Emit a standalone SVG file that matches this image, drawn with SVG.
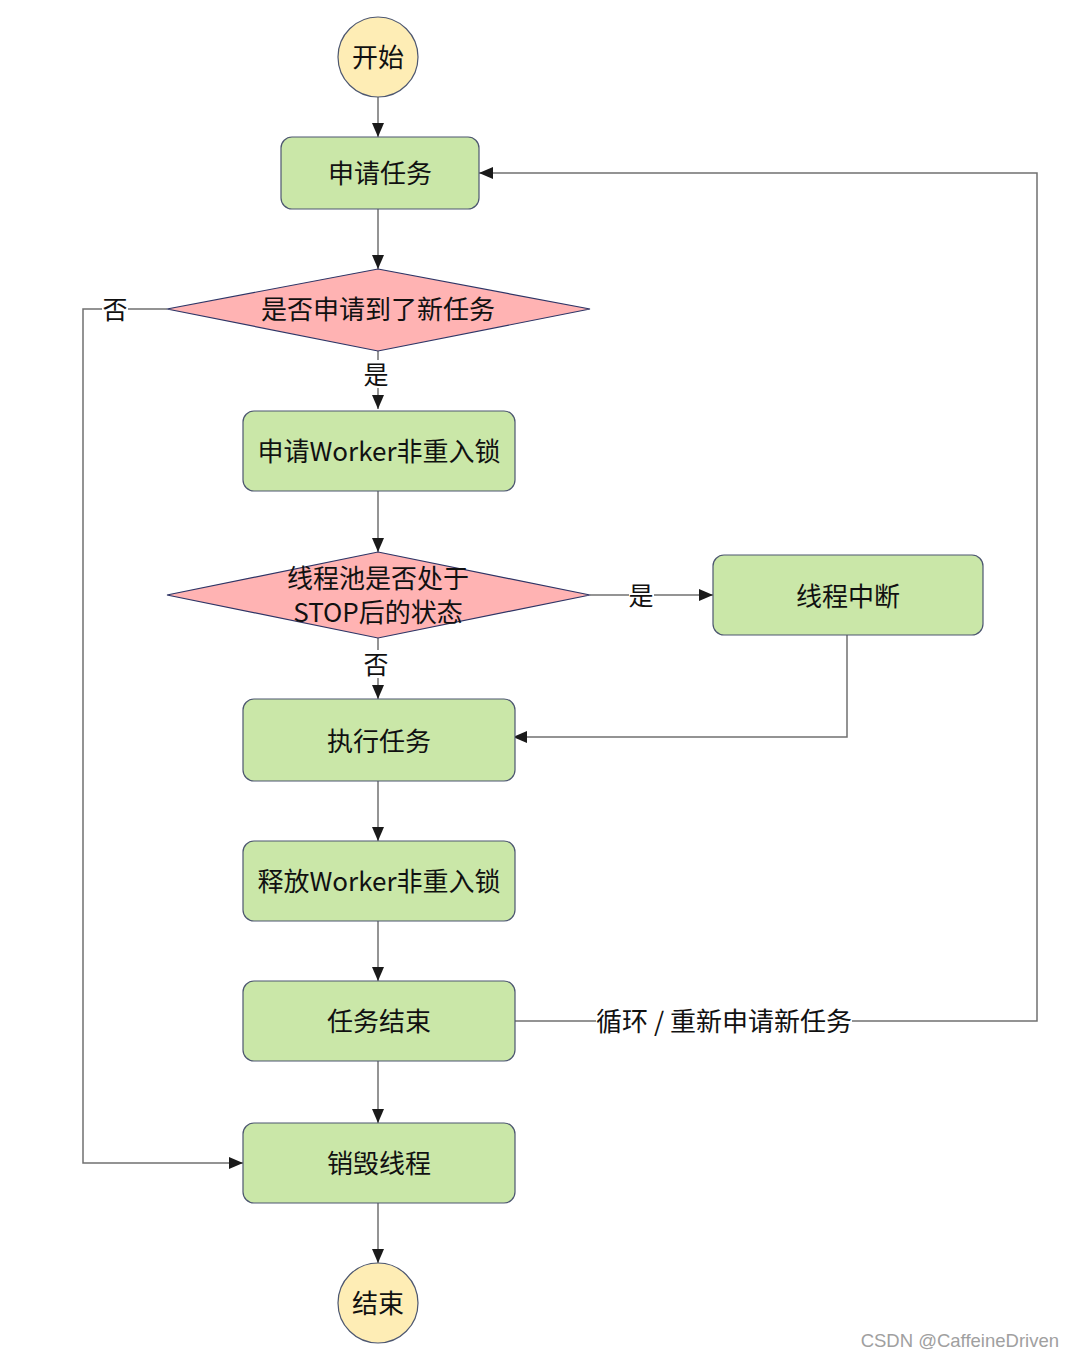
<svg xmlns="http://www.w3.org/2000/svg" width="1074" height="1358" viewBox="0 0 1074 1358">
<style>
.box{fill:#cae7a8;stroke:#4d5770;stroke-width:1.2}
.dia{fill:#ffb3b3;stroke:#2e3566;stroke-width:1.2}
.term{fill:#feedb5;stroke:#4d5770;stroke-width:1.2}
.t{font-family:"Noto Sans CJK SC","Liberation Sans",sans-serif;font-size:26px;fill:#111111;text-anchor:middle;dominant-baseline:central}
.lbl{font-family:"Noto Sans CJK SC","Liberation Sans",sans-serif;font-size:25px;fill:#111111;text-anchor:middle;dominant-baseline:central}
.c{fill:none;stroke:#707070;stroke-width:1.5}
.wm{font-family:"Liberation Sans",sans-serif;font-size:18.5px;fill:#a0a0a0;text-anchor:end}
</style>
<defs>
<marker id="ah" viewBox="0 0 14 12" refX="14" refY="6" markerWidth="14" markerHeight="12" markerUnits="userSpaceOnUse" orient="auto">
<path d="M0,0 L14,6 L0,12 Z" fill="#1a1a1a"/>
</marker>
</defs>
<rect width="1074" height="1358" fill="#ffffff"/>
<g id="connectors">
<path class="c" d="M378,97 V137" marker-end="url(#ah)"/>
<path class="c" d="M378,209 V269" marker-end="url(#ah)"/>
<path class="c" d="M378,351 V409" marker-end="url(#ah)"/>
<path class="c" d="M378,491 V552" marker-end="url(#ah)"/>
<path class="c" d="M590,595 H713" marker-end="url(#ah)"/>
<path class="c" d="M378,638 V699" marker-end="url(#ah)"/>
<path class="c" d="M847,635 V737 H513" marker-end="url(#ah)"/>
<path class="c" d="M378,781 V841" marker-end="url(#ah)"/>
<path class="c" d="M378,921 V981" marker-end="url(#ah)"/>
<path class="c" d="M515,1021 H1037 V173 H479" marker-end="url(#ah)"/>
<path class="c" d="M378,1061 V1123" marker-end="url(#ah)"/>
<path class="c" d="M167,309 H83 V1163 H243" marker-end="url(#ah)"/>
<path class="c" d="M378,1203 V1263" marker-end="url(#ah)"/>
<rect x="364" y="360" width="26" height="28" fill="#fff"/>
<text class="lbl" x="376" y="373">是</text>
<rect x="363" y="650" width="26" height="28" fill="#fff"/>
<text class="lbl" x="376" y="663">否</text>
<rect x="629" y="581" width="25" height="28" fill="#fff"/>
<text class="lbl" x="641" y="594">是</text>
<rect x="102" y="295" width="26" height="28" fill="#fff"/>
<text class="lbl" x="115" y="308">否</text>
<rect x="596" y="1006" width="256" height="30" fill="#fff"/>
<text class="t" x="724" y="1019">循环 / 重新申请新任务</text>
</g>
<g id="start">
<circle class="term" cx="378" cy="57" r="40"/>
<text class="t" x="378" y="55">开始</text>
</g>
<g id="apply-task">
<rect class="box" x="281" y="137" width="198" height="72" rx="11"/>
<text class="t" x="380" y="171">申请任务</text>
</g>
<g id="got-task">
<polygon class="dia" points="378,269 590,309 378,351 167,309"/>
<text class="t" x="378" y="307">是否申请到了新任务</text>
</g>
<g id="lock">
<rect class="box" x="243" y="411" width="272" height="80" rx="11"/>
<text class="t" x="379" y="449">申请Worker非重入锁</text>
</g>
<g id="stop-state">
<polygon class="dia" points="378,552 590,595 378,638 167,595"/>
<text class="t" x="378" y="576">线程池是否处于</text>
<text class="t" x="378" y="610">STOP后的状态</text>
</g>
<g id="interrupt">
<rect class="box" x="713" y="555" width="270" height="80" rx="11"/>
<text class="t" x="848" y="594">线程中断</text>
</g>
<g id="run-task">
<rect class="box" x="243" y="699" width="272" height="82" rx="11"/>
<text class="t" x="379" y="739">执行任务</text>
</g>
<g id="unlock">
<rect class="box" x="243" y="841" width="272" height="80" rx="11"/>
<text class="t" x="379" y="879">释放Worker非重入锁</text>
</g>
<g id="task-end">
<rect class="box" x="243" y="981" width="272" height="80" rx="11"/>
<text class="t" x="379" y="1019">任务结束</text>
</g>
<g id="destroy">
<rect class="box" x="243" y="1123" width="272" height="80" rx="11"/>
<text class="t" x="379" y="1161">销毁线程</text>
</g>
<g id="end">
<circle class="term" cx="378" cy="1303" r="40"/>
<text class="t" x="378" y="1301">结束</text>
</g>
<text class="wm" x="1059" y="1347">CSDN @CaffeineDriven</text>
</svg>
